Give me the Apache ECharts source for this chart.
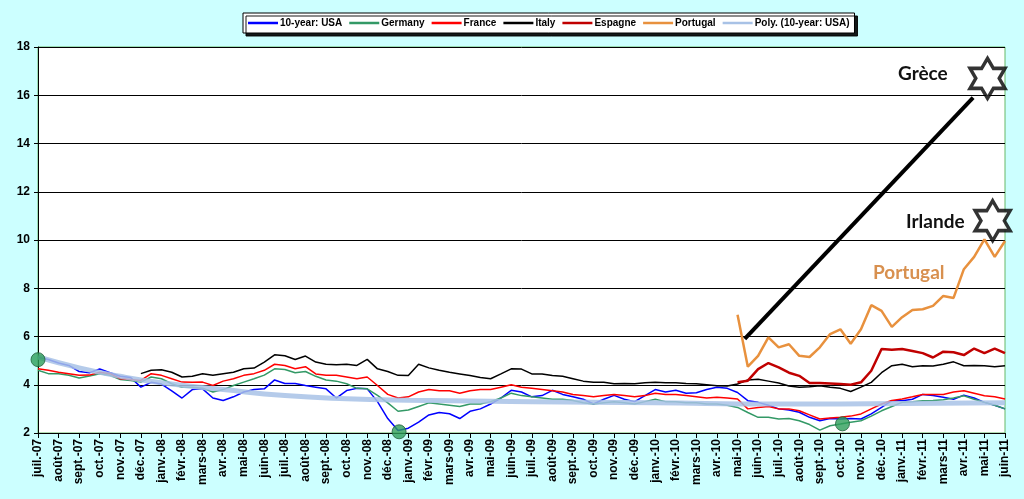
<!DOCTYPE html>
<html>
<head>
<meta charset="utf-8">
<script src="https://cdn.jsdelivr.net/npm/echarts@6/dist/echarts.min.js"></script>
<style>
  html, body { margin: 0; padding: 0; background: #ccffff; }
  #chart { width: 1024px; height: 499px; }
</style>
</head>
<body>
<div id="chart"></div>
<script>
// mois affichés sur l'axe (un repère par mois, deux relevés par mois)
const months = ['juil.-07', 'août-07', 'sept.-07', 'oct.-07', 'nov.-07', 'déc.-07',
  'janv.-08', 'févr.-08', 'mars-08', 'avr.-08', 'mai-08', 'juin-08', 'juil.-08', 'août-08', 'sept.-08', 'oct.-08', 'nov.-08', 'déc.-08',
  'janv.-09', 'févr.-09', 'mars-09', 'avr.-09', 'mai-09', 'juin-09', 'juil.-09', 'août-09', 'sept.-09', 'oct.-09', 'nov.-09', 'déc.-09',
  'janv.-10', 'févr.-10', 'mars-10', 'avr.-10', 'mai-10', 'juin-10', 'juil.-10', 'août-10', 'sept.-10', 'oct.-10', 'nov.-10', 'déc.-10',
  'janv.-11', 'févr.-11', 'mars-11', 'avr.-11', 'mai-11', 'juin-11'];

const yTicks = [2, 4, 6, 8, 10, 12, 14, 16, 18];

// taux à 10 ans, relevés au début et au milieu de chaque mois
const usa = [5.14, 5.05, 4.9, 4.8, 4.55, 4.5, 4.65, 4.5, 4.35, 4.3, 3.9, 4.1,
  4.03, 3.75, 3.45, 3.8, 3.83, 3.45, 3.35, 3.5, 3.7, 3.8, 3.83, 4.2, 4.05, 4.05, 3.97, 3.9, 3.83, 3.45, 3.76, 3.85, 3.83, 3.3, 2.6, 2.1,
  2.2, 2.45, 2.75, 2.85, 2.8, 2.6, 2.9, 3.0, 3.2, 3.45, 3.77, 3.7, 3.5, 3.55, 3.77, 3.6, 3.5, 3.4, 3.2, 3.4, 3.56, 3.4, 3.3, 3.55,
  3.8, 3.7, 3.77, 3.65, 3.67, 3.8, 3.9, 3.85, 3.68, 3.34, 3.27, 3.15, 3.0, 2.95, 2.86, 2.65, 2.51, 2.6, 2.58, 2.6, 2.58, 2.79, 3.06, 3.34,
  3.34, 3.4, 3.6, 3.55, 3.48, 3.4, 3.57, 3.45, 3.27, 3.15, 3.0];

const germany = [4.6, 4.46, 4.46, 4.39, 4.28, 4.36, 4.46, 4.39, 4.22, 4.18, 4.11, 4.32,
  4.25, 4.04, 3.9, 3.9, 3.86, 3.7, 3.8, 3.97, 4.11, 4.25, 4.4, 4.66, 4.63, 4.5, 4.55, 4.35, 4.2, 4.15, 4.04, 3.85, 3.83, 3.56, 3.25, 2.9,
  2.95, 3.1, 3.25, 3.2, 3.15, 3.1, 3.2, 3.2, 3.3, 3.45, 3.65, 3.55, 3.5, 3.45, 3.4, 3.4, 3.35, 3.25, 3.2, 3.25, 3.3, 3.25, 3.2, 3.3,
  3.4, 3.3, 3.3, 3.25, 3.25, 3.2, 3.2, 3.15, 3.06, 2.85, 2.65, 2.65, 2.58, 2.6, 2.51, 2.35, 2.12, 2.3, 2.37, 2.45, 2.51, 2.7, 2.92, 3.1,
  3.27, 3.3, 3.34, 3.35, 3.38, 3.45, 3.54, 3.4, 3.27, 3.15, 3.0];

const france = [4.66, 4.6, 4.52, 4.46, 4.39, 4.4, 4.52, 4.46, 4.25, 4.22, 4.18, 4.46,
  4.39, 4.25, 4.11, 4.1, 4.11, 3.97, 4.15, 4.25, 4.39, 4.46, 4.6, 4.85, 4.8, 4.66, 4.75, 4.45, 4.39, 4.39, 4.32, 4.25, 4.32, 3.97, 3.6, 3.45,
  3.5, 3.7, 3.8, 3.75, 3.75, 3.65, 3.75, 3.8, 3.8, 3.9, 4.0, 3.9, 3.85, 3.8, 3.75, 3.7, 3.6, 3.55, 3.5, 3.55, 3.6, 3.55, 3.5, 3.55,
  3.65, 3.6, 3.6, 3.55, 3.5, 3.45, 3.48, 3.45, 3.41, 3.0, 3.06, 3.1, 3.0, 3.0, 2.92, 2.75, 2.58, 2.62, 2.65, 2.7, 2.79, 3.0, 3.2, 3.35,
  3.41, 3.5, 3.6, 3.6, 3.6, 3.7, 3.75, 3.65, 3.54, 3.5, 3.41];

// l'Italie commence en déc.-07, l'Espagne et le Portugal en mai-10
const italyStart = 10;
const italy = [4.46, 4.6,
  4.62, 4.52, 4.32, 4.35, 4.46, 4.39, 4.46, 4.52, 4.66, 4.69, 4.94, 5.24, 5.2, 5.05, 5.19, 4.94, 4.85, 4.83, 4.85, 4.8, 5.05, 4.66, 4.55, 4.39,
  4.38, 4.85, 4.7, 4.6, 4.52, 4.45, 4.38, 4.3, 4.25, 4.45, 4.66, 4.65, 4.45, 4.45, 4.38, 4.35, 4.25, 4.15, 4.1, 4.1, 4.04, 4.05, 4.04, 4.08,
  4.1, 4.08, 4.08, 4.05, 4.04, 4.0, 3.96, 3.95, 4.03, 4.2, 4.23, 4.15, 4.07, 3.95, 3.9, 3.92, 3.96, 3.9, 3.85, 3.72, 3.9, 4.1, 4.5, 4.79,
  4.85, 4.75, 4.79, 4.78, 4.85, 4.95, 4.79, 4.8, 4.79, 4.75, 4.79];

const periphStart = 68;
const espagne = [4.1, 4.17, 4.65, 4.9, 4.72, 4.5, 4.37, 4.07, 4.07, 4.05, 4.03, 4.0, 4.1, 4.58, 5.48, 5.45,
  5.48, 5.4, 5.31, 5.13, 5.37, 5.35, 5.23, 5.5, 5.31, 5.5, 5.31];
const portugal = [6.9, 4.75, 5.2, 5.96, 5.55, 5.68, 5.2, 5.15, 5.55, 6.1, 6.3, 5.7, 6.3, 7.3, 7.06, 6.4,
  6.8, 7.1, 7.13, 7.27, 7.68, 7.6, 8.79, 9.3, 10.03, 9.3, 9.96];

// tendance polynomiale
const polyIdx = [0, 4, 8, 12, 18, 24, 30, 36, 48, 60, 72, 84, 94];
const polyVal = [5.15, 4.7, 4.35, 4.08, 3.8, 3.55, 3.42, 3.36, 3.3, 3.25, 3.2, 3.22, 3.25];

// points verts, étoiles et flèche
const dotIdx = [0, 35.1, 78.2];
const dotVal = [5.04, 2.05, 2.38];
const starIdx = [92.3, 92.8];
const starVal = [16.7, 10.8];
const arrowIdx = [68.7, 90.9];
const arrowVal = [5.9, 15.9];

const starPath = 'path://M50,0L64.43,25L93.3,25L78.87,50L93.3,75L64.43,75L50,100L35.57,75L6.7,75L21.13,50L6.7,25L35.57,25Z';

const pairs = (vals, start) => vals.map((v, i) => [start + i, v]);
const zip = (xs, ys) => xs.map((x, i) => [x, ys[i]]);

const font = '"Liberation Sans", Arial, sans-serif';
const noteFont = 'bold 19px Lato, "Open Sans", sans-serif';

const myChart = echarts.init(document.getElementById('chart'));

const lineSeries = (name, color, data, width) => ({
  name: name,
  type: 'line',
  data: data,
  symbol: 'none',
  showSymbol: false,
  lineStyle: { color: color, width: width },
  itemStyle: { color: color },
  animation: false
});

myChart.setOption({
  backgroundColor: '#ccffff',
  textStyle: { fontFamily: font },
  legend: {
    top: 13,
    left: 243,
    backgroundColor: '#ffffff',
    borderColor: '#000000',
    borderWidth: 1,
    padding: [5, 5],
    itemGap: 7,
    itemWidth: 30,
    itemHeight: 2.5,
    icon: 'rect',
    shadowColor: 'rgba(0,0,0,0.9)',
    shadowOffsetX: 3,
    shadowOffsetY: 3,
    shadowBlur: 0,
    textStyle: { fontSize: 10, fontWeight: 'bold', color: '#000', padding: [0, 0, 0, -3] },
    data: ['10-year: USA', 'Germany', 'France', 'Italy', 'Espagne', 'Portugal', 'Poly. (10-year: USA)']
  },
  grid: {
    left: 38,
    right: 19,
    top: 47,
    bottom: 66,
    show: true,
    backgroundColor: '#ffffff',
    borderColor: '#66b866',
    borderWidth: 1
  },
  xAxis: {
    type: 'value',
    min: 0,
    max: (months.length - 1) * 2,
    interval: 2,
    axisLine: { lineStyle: { color: '#000', width: 1 } },
    axisTick: { show: true, length: 5, lineStyle: { color: '#000' } },
    splitLine: { show: false },
    axisLabel: {
      rotate: 90,
      fontSize: 12,
      fontWeight: 'bold',
      color: '#000',
      margin: 6,
      showMinLabel: true,
      showMaxLabel: true,
      formatter: (v) => months[v / 2]
    }
  },
  yAxis: {
    type: 'value',
    min: yTicks[0],
    max: yTicks[yTicks.length - 1],
    interval: 2,
    axisLine: { show: true, lineStyle: { color: '#000' } },
    axisTick: { show: true, length: 4, lineStyle: { color: '#000' } },
    splitLine: { lineStyle: { color: '#000', width: 1 } },
    axisLabel: { fontSize: 12, fontWeight: 'bold', color: '#000', margin: 8 }
  },
  graphic: [
    { type: 'text', left: 898, top: 64, style: { text: 'Grèce', font: noteFont, fill: '#111' } },
    { type: 'text', left: 906, top: 212, style: { text: 'Irlande', font: noteFont, fill: '#111' } },
    { type: 'text', left: 873, top: 263, style: { text: 'Portugal', font: noteFont, fill: '#d8904f' } }
  ],
  series: [
    lineSeries('10-year: USA', '#0000ff', pairs(usa, 0), 1.5),
    lineSeries('Germany', '#339966', pairs(germany, 0), 1.5),
    lineSeries('France', '#ff0000', pairs(france, 0), 1.5),
    lineSeries('Italy', '#000000', pairs(italy, italyStart), 1.5),
    lineSeries('Espagne', '#c00000', pairs(espagne, periphStart), 2.5),
    lineSeries('Portugal', '#e8913e', pairs(portugal, periphStart), 2.5),
    Object.assign(lineSeries('Poly. (10-year: USA)', '#a8c2e6', zip(polyIdx, polyVal), 5), {
      smooth: true,
      lineStyle: { color: '#a8c2e6', width: 5, opacity: 0.85 }
    }),
    {
      type: 'line',
      data: zip(arrowIdx, arrowVal),
      symbol: 'none',
      lineStyle: { color: '#000', width: 4 },
      animation: false,
      z: 5
    },
    {
      type: 'scatter',
      data: zip(dotIdx, dotVal),
      symbolSize: 14,
      itemStyle: { color: '#2e9e5a', borderColor: '#1f5f3a', borderWidth: 1 },
      animation: false,
      z: 6
    },
    {
      type: 'scatter',
      data: zip(starIdx, starVal),
      symbol: starPath,
      symbolSize: [35, 40],
      itemStyle: { color: '#ffffff', borderColor: '#000', borderWidth: 3.5 },
      animation: false,
      z: 7
    }
  ]
});
</script>
</body>
</html>
